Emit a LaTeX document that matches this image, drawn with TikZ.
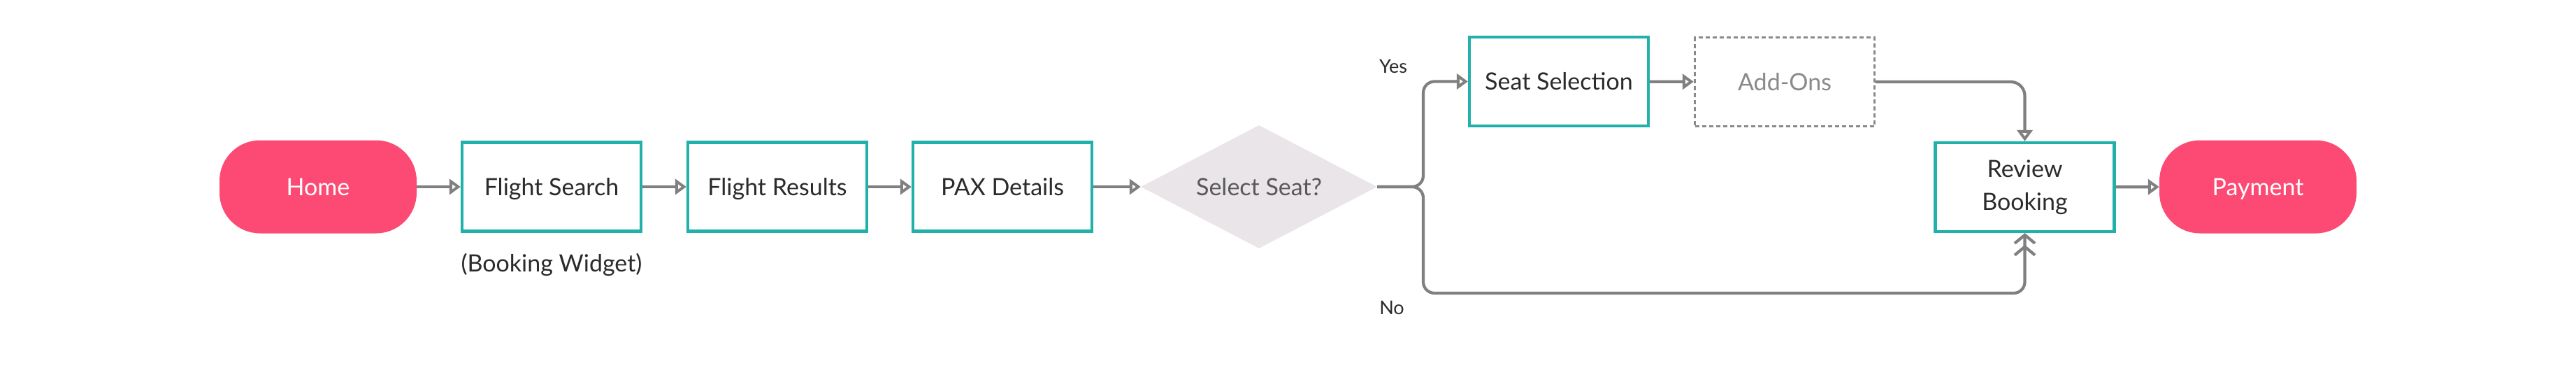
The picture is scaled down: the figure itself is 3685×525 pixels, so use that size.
\documentclass[tikz,border=0pt]{standalone}
\usepackage{fontspec}
\setmainfont{Lato}
\usepackage{xcolor}
\usepackage{tikz}
\usetikzlibrary{arrows.meta,shapes.geometric}

\definecolor{termpink}{HTML}{FC4A74}
\definecolor{boxteal}{HTML}{22B0AA}
\definecolor{decfill}{HTML}{E9E5E9}
\definecolor{flowgrey}{HTML}{808080}
\definecolor{dashgrey}{HTML}{8A8A8A}
\definecolor{inkgrey}{HTML}{2B2B2B}

\begin{document}
\begin{tikzpicture}[x=1pt, y=-1pt,
		every node/.style={font=\fontsize{34}{47}\selectfont, text=inkgrey, inner sep=0pt},
		oneline/.style={text height=24.5pt, text depth=0pt},
		term/.style={oneline, fill=termpink, text=white, rounded corners=58pt,
			minimum width=282pt, minimum height=133pt},
		stage/.style={draw=boxteal, line width=4.2pt, fill=white,
			minimum width=256pt, minimum height=127pt},
		optstage/.style={draw=dashgrey, line width=3.4pt, dash pattern=on 6pt off 4pt,
			text=dashgrey, minimum width=257pt, minimum height=127pt},
		choice/.style={oneline, diamond, aspect=1.92, fill=decfill, text=black!65,
			minimum width=338pt, minimum height=176pt},
		branch/.style={oneline, font=\fontsize{27}{32}\selectfont},
		flow/.style={draw=flowgrey, line width=4.2pt,
			-{Triangle[open, length=16pt, width=22pt]}},
		flowin/.style={draw=flowgrey, line width=4.2pt,
			-{Straight Barb[length=12pt, width=29pt] Straight Barb[length=12pt, width=29pt]}}]

		\useasboundingbox (0,0) rectangle (3685,525);

		\coordinate (jn) at (2036, 267);
		\coordinate (nb) at (2036, 419);

		\node [term]            (home)  at (455,    267)   {Home};
		\node [stage, oneline]  (fs)    at (789,    267)   {Flight Search};
		\node [stage, oneline]  (fr)    at (1112,   267)   {Flight Results};
		\node [stage, oneline]  (pax)   at (1434,   267)   {PAX Details};
		\node [choice]          (sel)   at (1801,   267)   {Select Seat?};
		\node [stage, oneline]  (seat)  at (2230,   116.5) {Seat Selection};
		\node [optstage, oneline] (addon) at (2553, 117)   {Add-Ons};
		\node [stage, align=center] (rev) at (2896.5, 267.5) {Review\\Booking};
		\node [term]            (pay)   at (3230,   267)   {Payment};

		\node [oneline]         (bw)    at (789,    376.5) {(Booking Widget)};
		\node [branch]          (yes)   at (1993,   92.5)  {Yes};
		\node [branch]          (no)    at (1991,   437)   {No};


		\draw [flow] (home) -- (fs);
		\draw [flow] (fs) -- (fr);
		\draw [flow] (fr) -- (pax);
		\draw [flow] (pax) -- (sel);

		\draw [flow, rounded corners=16pt] (sel.east) -- (jn) |- (seat.west);
		\draw [flowin, rounded corners=16pt] (sel.east) -- (jn) -- (nb) -| (rev.south);

		\draw [flow] (seat) -- (addon);
		\draw [flow, rounded corners=20pt] (addon.east) -| (rev.north);

		\draw [flow] (rev) -- (pay);
	\end{tikzpicture}
\end{document}
